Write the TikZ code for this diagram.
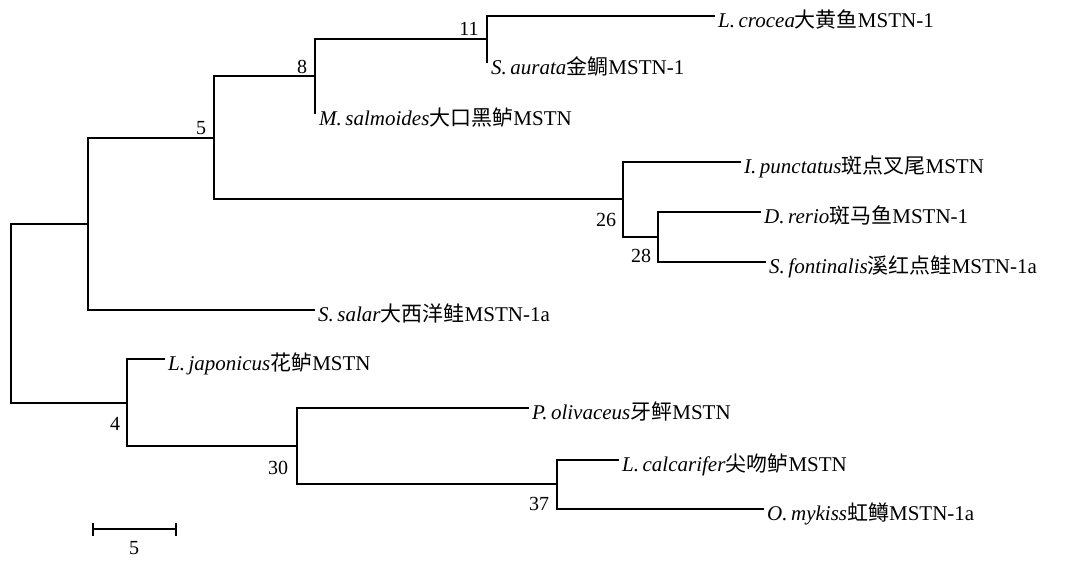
\documentclass[tikz,border=0pt]{standalone}
\usepackage{fontspec}
\setmainfont{Liberation Serif}
\newfontfamily\cjk{Noto Sans CJK SC}
\usetikzlibrary{positioning,arrows.meta}
\newcommand{\taxon}[3]{\textit{#1}{\cjk #2}#3}

\begin{document}
\begin{tikzpicture}[
  x=1pt, y=-1pt,
  every node/.style={font=\fontsize{21}{24}\selectfont},
  branch/.style={line width=2pt, line cap=rect},
  leaf/.style={anchor=west, inner xsep=4pt, inner ysep=0pt,
               text height=22pt, text depth=0pt},
  stub/.style={anchor=north west, inner xsep=4pt, inner ysep=0pt,
               text height=12pt, text depth=0pt},
  boot/.style={font=\fontsize{20}{22}\selectfont, inner sep=1pt},
  sbar/.style={line width=2pt, {Bar[width=13pt]}-{Bar[width=13pt]}}
]
\useasboundingbox (0,0) rectangle (1067,560);
% Internal nodes (x of the split, y where the parent branch joins)
\coordinate (root) at (11, 313);
\coordinate (nup)  at (88, 224);
\coordinate (n5)   at (214,138);
\coordinate (n8)   at (315, 76);
\coordinate (n11)  at (487, 39);
\coordinate (n26)  at (623,199);
\coordinate (n28)  at (658,237);
\coordinate (n4)   at (127,403);
\coordinate (n30)  at (297,446);
\coordinate (n37)  at (557,484);
% Leaves
\node[leaf] (lcro) at (714, 16) {\taxon{L.\,crocea}{大黄鱼}{MSTN-1}};
\node[stub] (saur) at (487, 62) {\taxon{S.\,aurata}{金鲷}{MSTN-1}};
\node[stub] (msal) at (315,113) {\taxon{M.\,salmoides}{大口黑鲈}{MSTN}};
\node[leaf] (ipun) at (740,162) {\taxon{I.\,punctatus}{斑点叉尾}{MSTN}};
\node[leaf] (drer) at (760,212) {\taxon{D.\,rerio}{斑马鱼}{MSTN-1}};
\node[leaf] (sfon) at (765,262) {\taxon{S.\,fontinalis}{溪红点鲑}{MSTN-1a}};
\node[leaf] (ssal) at (314,310) {\taxon{S.\,salar}{大西洋鲑}{MSTN-1a}};
\node[leaf] (ljap) at (164,359) {\taxon{L.\,japonicus}{花鲈}{MSTN}};
\node[leaf] (poli) at (528,408) {\taxon{P.\,olivaceus}{牙鲆}{MSTN}};
\node[leaf] (lcal) at (618,460) {\taxon{L.\,calcarifer}{尖吻鲈}{MSTN}};
\node[leaf] (omyk) at (763,509) {\taxon{O.\,mykiss}{虹鳟}{MSTN-1a}};
% Branches
\draw[branch] (root) |- (nup);
\draw[branch] (root) |- (n4);
\draw[branch] (nup)  |- (n5);
\draw[branch] (nup)  |- (ssal);
\draw[branch] (n5)   |- (n8);
\draw[branch] (n5)   |- (n26);
\draw[branch] (n8)   |- (n11);
\draw[branch] (n8)   -- (msal.north west);
\draw[branch] (n11)  |- (lcro);
\draw[branch] (n11)  -- (saur.north west);
\draw[branch] (n26)  |- (ipun);
\draw[branch] (n26)  |- (n28);
\draw[branch] (n28)  |- (drer);
\draw[branch] (n28)  |- (sfon);
\draw[branch] (n4)   |- (ljap);
\draw[branch] (n4)   |- (n30);
\draw[branch] (n30)  |- (poli);
\draw[branch] (n30)  |- (n37);
\draw[branch] (n37)  |- (lcal);
\draw[branch] (n37)  |- (omyk);
% Bootstrap values
\node[boot] (b11) at (469, 29) {11};
\node[boot] (b8)  at (302, 67) {8};
\node[boot] (b5)  at (201,128) {5};
\node[boot] (b26) at (606,220) {26};
\node[boot] (b28) at (641,256) {28};
\node[boot] (b4)  at (115,424) {4};
\node[boot] (b30) at (278,468) {30};
\node[boot] (b37) at (539,504) {37};
% Scale bar
\coordinate (sbl) at (92,529);
\coordinate (sbr) at (177,529);
\draw[sbar] (sbl) -- (sbr);
\node[boot] (sblab) at (134,548) {5};
\end{tikzpicture}
\end{document}
